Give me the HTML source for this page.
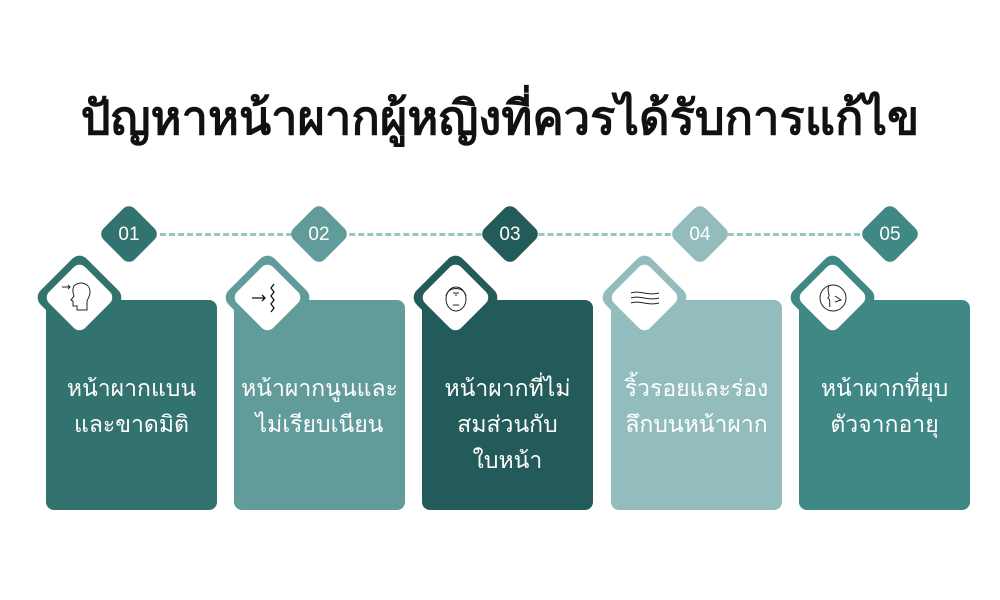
<!DOCTYPE html>
<html><head><meta charset="utf-8"><style>
body{margin:0;width:1000px;height:600px;background:#fff;position:relative;overflow:hidden;font-family:"Liberation Sans","Noto Sans CJK SC",sans-serif}
.t{position:absolute;left:0;width:1000px;top:80px;text-align:center;font-size:47px;font-weight:bold;color:#111}
.line{position:absolute;left:160px;width:700px;top:233px;border-top:3px dashed #9cc4c2}
.num{position:absolute;width:44px;height:44px;border-radius:8px;transform:rotate(45deg)}
.nt{position:absolute;width:60px;text-align:center;color:#fff;font-size:19px;top:224px}
.card{position:absolute;top:300px;width:171px;height:210px;border-radius:8px;color:#fff;font-size:23px;line-height:36px;text-align:center;box-sizing:border-box;padding-top:70px}
.io{position:absolute;width:65px;height:65px;border-radius:10px;transform:rotate(45deg)}
.ii{position:absolute;width:51px;height:51px;border-radius:8px;background:#fff;transform:rotate(45deg)}
.ic{position:absolute;width:40px;height:40px}
</style></head><body>
<div class="t">ปัญหาหน้าผากผู้หญิงที่ควรได้รับการแก้ไข</div>
<div class="line"></div>

<div class="num" style="left:107px;top:212px;background:#33736f"></div><div class="nt" style="left:99px">01</div>
<div class="num" style="left:297px;top:212px;background:#629c9a"></div><div class="nt" style="left:289px">02</div>
<div class="num" style="left:488px;top:212px;background:#235b5a"></div><div class="nt" style="left:480px">03</div>
<div class="num" style="left:678px;top:212px;background:#93bdbd"></div><div class="nt" style="left:670px">04</div>
<div class="num" style="left:868px;top:212px;background:#3f8886"></div><div class="nt" style="left:860px">05</div>

<div class="card" style="left:46px;background:#33736f">หน้าผากแบน<br>และขาดมิติ</div>
<div class="card" style="left:234px;background:#629c9a">หน้าผากนูนและ<br>ไม่เรียบเนียน</div>
<div class="card" style="left:422px;background:#235b5a">หน้าผากที่ไม่<br>สมส่วนกับ<br>ใบหน้า</div>
<div class="card" style="left:611px;background:#93bdbd">ริ้วรอยและร่อง<br>ลึกบนหน้าผาก</div>
<div class="card" style="left:799px;background:#3f8886">หน้าผากที่ยุบ<br>ตัวจากอายุ</div>

<div class="io" style="left:47px;top:265px;background:#33736f"></div><div class="ii" style="left:54px;top:272px"></div>
<div class="io" style="left:235px;top:265px;background:#629c9a"></div><div class="ii" style="left:242px;top:272px"></div>
<div class="io" style="left:423px;top:265px;background:#235b5a"></div><div class="ii" style="left:430px;top:272px"></div>
<div class="io" style="left:612px;top:265px;background:#93bdbd"></div><div class="ii" style="left:619px;top:272px"></div>
<div class="io" style="left:800px;top:265px;background:#3f8886"></div><div class="ii" style="left:807px;top:272px"></div>

<svg class="ic" style="left:60px;top:278px" viewBox="0 0 40 40" fill="none" stroke="#222" stroke-width="1"><path d="M2 9h8M8 7l2 2-2 2"/><path d="M14 8c4-5 16-4 16 6 0 5-3 7-3 10v8H17v-4h-4v-5l-2-1 3-4c-1-3-2-6 0-10z"/></svg>
<svg class="ic" style="left:248px;top:278px" viewBox="0 0 40 40" fill="none" stroke="#111" stroke-width="1.3"><path d="M4 20h13M14 17l3 3-3 3"/><path d="M26 6l-3 4 3 4-3 4 3 4-3 4 3 4-3 4"/></svg>
<svg class="ic" style="left:436px;top:278px" viewBox="0 0 40 40" fill="none" stroke="#222" stroke-width="1"><ellipse cx="20" cy="21" rx="10" ry="12"/><path d="M10 18c2-10 18-10 20 0"/><path d="M17 15h2M21 15h2M20 14v4M17 27h6"/></svg>
<svg class="ic" style="left:625px;top:278px" viewBox="0 0 40 40" fill="none" stroke="#222" stroke-width="1"><path d="M6 15c8-3 18 3 28 0M6 20c8-3 18 3 28 0M6 25c8-3 18 3 28 0"/></svg>
<svg class="ic" style="left:813px;top:278px" viewBox="0 0 40 40" fill="none" stroke="#222" stroke-width="1"><circle cx="20" cy="20" r="13"/><path d="M16 8c-3 6 2 8-1 12 3 2 1 5 2 9"/><path d="M22 18l6 4-6 2"/></svg>
</body></html>
